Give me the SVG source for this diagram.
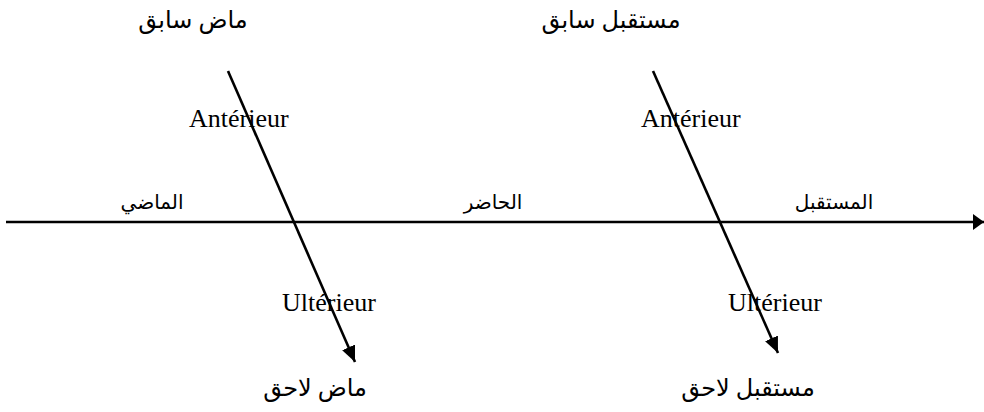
<svg xmlns="http://www.w3.org/2000/svg" width="984" height="412" viewBox="0 0 984 412">
<style>
.t{font-family:"Liberation Serif","DejaVu Serif",serif;font-size:26px;fill:#000}
.a{font-family:"Liberation Serif","DejaVu Sans",serif;font-size:24px;fill:#000;direction:rtl}
.m{font-family:"Liberation Serif","DejaVu Sans",serif;font-size:20px;fill:#000;direction:rtl}
.l{stroke:#000;stroke-width:2.6;fill:none}
</style>
<defs>
<marker id="ah" viewBox="0 0 11 16" refX="11" refY="8" markerWidth="11" markerHeight="16" orient="auto" markerUnits="userSpaceOnUse">
<path d="M0,0 L11,8 L0,16 z" fill="#000"/>
</marker>
<marker id="ad" viewBox="0 0 16 14" refX="16" refY="7" markerWidth="16" markerHeight="14" orient="auto" markerUnits="userSpaceOnUse">
<path d="M0,0 L16,7 L0,14 z" fill="#000"/>
</marker>
</defs>
<g id="connectors">
<line class="l" x1="6" y1="222" x2="984" y2="222" marker-end="url(#ah)"/>
<line class="l" x1="228" y1="71" x2="355" y2="362" marker-end="url(#ad)"/>
<line class="l" x1="653" y1="71" x2="778" y2="353" marker-end="url(#ad)"/>
</g>
<g id="past-before"><text class="a" x="193" y="28" text-anchor="middle">ماض سابق</text></g>
<g id="future-before"><text class="a" x="611" y="28" text-anchor="middle">مستقبل سابق</text></g>
<g id="anterieur-1"><text class="t" x="189" y="127">Antérieur</text></g>
<g id="anterieur-2"><text class="t" x="641" y="127">Antérieur</text></g>
<g id="past"><text class="m" x="152" y="209" text-anchor="middle">الماضي</text></g>
<g id="present"><text class="m" x="493" y="209" text-anchor="middle">الحاضر</text></g>
<g id="future"><text class="m" x="834" y="209" text-anchor="middle">المستقبل</text></g>
<g id="ulterieur-1"><text class="t" x="282" y="311">Ultérieur</text></g>
<g id="ulterieur-2"><text class="t" x="728" y="311">Ultérieur</text></g>
<g id="past-after"><text class="a" x="315" y="396" text-anchor="middle">ماض لاحق</text></g>
<g id="future-after"><text class="a" x="748" y="396" text-anchor="middle">مستقبل لاحق</text></g>
</svg>
